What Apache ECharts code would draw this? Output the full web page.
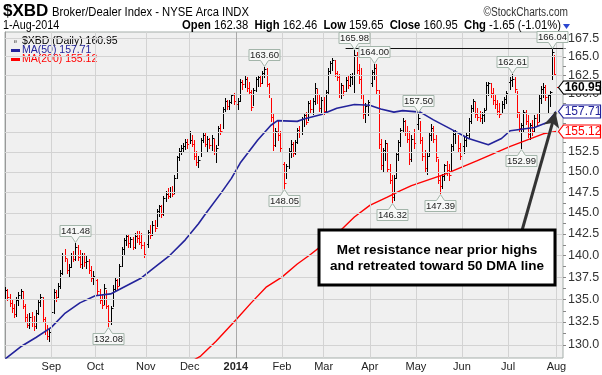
<!DOCTYPE html>
<html>
<head>
<meta charset="utf-8">
<script src="https://cdn.jsdelivr.net/npm/echarts@6/dist/echarts.min.js"></script>
<style>
  html, body { margin: 0; padding: 0; background: #fff; }
  #chart { width: 602px; height: 375px; }
</style>
</head>
<body>
<div id="chart"></div>
<script>
// daily bars, 2-Aug-2013 .. 1-Aug-2014 (index = trading day)
const highs = [
  136.4,136.2,135.6,135.0,134.5,135.2,135.8,136.2,135.9,134.5,133.4,133.5,133.6,133.2,133.8,135.0,135.6,135.2,133.0,132.2,131.8,
  133.8,136.1,136.0,136.8,138.3,140.3,140.7,139.6,139.0,140.3,140.5,141.48,141.2,140.6,140.3,140.3,140.0,139.6,138.8,138.2,
  137.8,137.3,136.1,135.6,136.7,136.0,134.4,134.3,136.6,137.4,137.3,139.0,141.0,142.0,142.5,142.4,142.1,142.1,142.6,142.9,142.8,142.6,141.6,
  141.6,143.0,143.5,144.0,144.2,145.5,146.0,146.0,147.0,147.6,148.0,148.1,148.2,149.6,152.0,153.0,153.4,153.6,154.2,154.1,
  155.1,154.6,154.0,152.6,152.0,154.3,155.0,155.0,154.5,154.3,154.6,154.2,153.4,155.8,156.0,158.3,159.4,159.2,159.2,160.0,160.1,
  160.0,159.4,162.0,161.9,162.4,162.2,161.6,160.5,160.8,162.3,162.4,162.5,163.0,163.6,163.4,161.5,159.5,157.5,155.6,156.4,155.2,
  154.0,151.2,151.0,153.0,154.0,153.8,154.0,155.6,155.8,157.0,157.4,157.6,159.0,159.2,159.4,161.5,160.6,159.8,159.6,
  159.6,160.5,163.4,164.4,164.8,164.5,163.0,162.6,161.5,161.2,162.2,162.4,162.6,162.8,165.98,165.6,164.0,163.5,160.0,158.8,159.2,
  161.8,163.2,164.0,164.0,160.5,154.2,153.0,154.0,153.6,151.0,149.6,149.6,152.5,154.0,155.6,156.8,156.6,155.8,155.2,154.6,155.4,
  156.4,157.5,156.5,154.4,152.7,152.4,155.0,156.0,155.8,154.6,151.6,149.6,149.7,151.0,151.3,151.0,153.5,155.2,155.3,154.6,153.6,
  153.6,154.4,155.0,156.8,158.5,159.3,158.9,158.2,157.8,157.6,158.2,161.6,161.6,161.4,160.8,159.8,159.2,158.8,159.0,159.6,160.4,
  161.8,162.2,162.61,162.2,160.4,157.6,156.2,157.9,157.9,157.2,156.2,156.6,157.2,157.4,159.8,161.0,161.4,161.2,160.0,160.4,166.04,165.2,
  162.46
];
const lows = [
  135.0,134.9,134.2,133.6,133.0,133.2,134.4,135.0,134.0,132.6,131.9,131.8,132.1,131.6,131.8,133.4,134.3,132.5,131.2,130.6,130.4,
  132.2,133.5,134.8,135.2,136.3,137.8,139.3,138.0,137.6,138.6,139.3,139.5,139.5,138.6,138.5,138.8,138.5,138.0,137.0,136.7,
  136.9,135.6,134.6,134.0,134.5,134.0,132.08,132.3,134.3,136.0,136.0,136.6,138.8,140.2,141.2,141.0,141.0,140.7,140.8,141.5,141.3,140.9,139.8,
  140.0,141.0,142.0,142.4,142.8,143.4,144.6,144.5,144.8,146.4,146.8,146.9,147.0,147.4,149.2,151.5,152.2,152.5,152.9,153.0,
  153.6,153.2,151.6,150.8,150.6,152.0,153.8,153.2,152.6,153.0,152.8,152.2,151.2,153.4,154.8,155.6,157.8,158.0,158.0,158.8,158.6,
  158.4,158.0,159.0,160.6,160.9,160.4,160.0,157.9,158.5,160.4,161.0,161.0,161.5,162.3,161.0,159.6,156.5,152.8,153.3,154.0,152.6,
  150.6,148.05,149.2,150.5,151.8,152.0,152.2,153.6,154.4,154.8,155.8,156.0,156.6,157.6,157.4,158.6,158.8,157.8,157.6,
  157.4,157.8,160.1,162.8,163.2,162.4,161.8,159.6,159.5,159.8,160.4,160.8,161.0,161.3,160.2,162.8,161.5,159.5,156.8,156.3,157.2,
  158.9,161.0,162.0,160.0,153.0,150.4,150.0,151.5,150.0,148.6,146.32,146.6,149.2,151.5,153.2,155.0,154.6,153.8,151.0,151.4,153.0,
  153.4,155.4,153.6,151.5,150.0,149.7,152.0,154.0,153.8,151.4,148.6,147.39,148.0,149.0,149.6,149.0,150.0,152.8,153.6,152.6,151.6,
  151.5,152.4,153.2,154.4,156.2,157.8,157.0,156.6,156.4,156.2,156.4,158.0,159.8,159.6,158.6,158.2,157.4,157.0,157.6,158.2,158.8,
  160.0,160.6,161.0,160.2,157.0,155.2,152.99,155.2,156.0,154.4,154.2,154.6,155.2,155.8,156.4,158.8,159.6,159.2,157.6,158.4,162.0,162.5,
  159.65
];
const closes = [
  136.0,135.2,134.6,134.0,133.4,134.9,135.5,135.9,134.3,133.0,132.2,133.0,132.5,132.0,133.5,134.7,135.3,132.8,131.6,131.0,131.4,
  133.6,135.8,135.3,136.5,138.0,140.0,139.7,138.3,138.7,140.0,139.6,141.0,139.8,139.0,140.0,139.2,139.4,138.3,137.4,137.6,
  137.2,135.9,134.9,134.4,136.3,134.3,132.6,134.0,136.2,137.2,136.5,138.8,140.7,141.8,142.2,141.4,141.9,141.0,142.3,142.0,141.6,141.2,140.2,
  141.3,142.7,142.4,143.6,143.2,145.2,145.8,144.9,146.8,147.3,147.0,147.5,147.3,149.3,151.8,152.6,153.0,153.3,153.8,153.5,
  154.0,153.5,152.0,151.2,151.5,154.0,154.6,153.5,154.2,153.4,154.3,152.5,153.0,155.5,155.2,158.0,159.1,158.4,158.9,159.8,159.0,
  158.7,159.1,161.6,161.3,162.0,160.8,160.3,158.3,160.5,162.0,162.2,161.4,162.8,163.3,161.3,160.0,157.0,153.4,155.2,154.6,153.0,
  151.0,148.6,150.7,152.6,153.5,152.4,153.8,155.3,155.0,156.7,157.2,156.3,158.8,158.0,159.0,160.8,160.0,158.2,159.2,
  157.8,160.3,163.0,164.2,164.5,162.8,162.2,160.0,161.2,160.4,161.8,161.2,162.2,162.5,165.2,163.2,162.0,160.0,157.3,158.4,158.9,
  161.5,162.9,163.5,160.5,153.5,150.8,152.7,153.6,150.4,149.0,146.9,149.3,152.2,153.7,155.3,156.5,155.0,154.2,151.6,154.2,153.6,
  156.0,156.8,154.0,152.0,150.5,152.0,154.6,155.6,154.2,151.8,149.0,148.2,149.5,150.8,150.2,149.6,153.2,154.8,155.0,153.0,152.0,
  153.3,154.0,154.6,156.5,158.2,159.0,157.4,157.0,156.8,157.2,157.9,161.2,161.4,160.1,159.2,158.6,157.8,157.4,158.6,159.3,160.1,
  161.6,161.9,162.0,160.6,157.6,155.6,155.9,157.6,156.4,154.8,155.9,155.2,156.8,156.3,159.4,160.6,160.9,159.6,159.8,160.2,165.6,162.6,
  160.95
];

// moving averages at sample days
const ma50Idx = [0,7,14,21,27,34,41,48,55,62,68,75,82,88,91,98,103,107,115,121,124,133,136,144,151,159,166,171,177,181,189,195,203,211,220,226,230,241,247,251];
const ma50Val = [128.5,129.8,130.8,131.9,133.4,134.6,135.4,135.6,136.5,137.4,138.6,140.0,141.8,143.7,144.8,147.3,149.2,151.1,154.0,155.9,156.5,156.4,156.7,157.3,158.1,158.6,158.5,158.0,157.6,157.8,157.6,156.6,155.4,154.2,153.4,154.2,155.2,155.6,156.3,157.71];
const ma200Idx = [86,89,96,105,112,119,126,133,139,145,153,159,166,174,180,185,200,215,230,245,251];
const ma200Val = [128.4,128.8,130.4,132.7,134.6,136.4,137.5,139.0,140.1,141.3,143.0,144.5,145.9,146.9,147.7,148.3,149.7,151.4,153.2,154.8,155.12];

const monthTicks = [21,41,64,84,105,126,145,166,187,208,229,251];
const monthNames = ['Sep','Oct','Nov','Dec','2014','Feb','Mar','Apr','May','Jun','Jul','Aug'];
const priceTicks = [130,132.5,135,137.5,140,142.5,145,147.5,150,152.5,155,157.5,160,162.5,165,167.5];

const peakIdx = [32,118,159,168,188,231,249];
const troughIdx = [47,127,176,198,235];

const lastClose = 160.95, lastMa50 = 157.71, lastMa200 = 155.12;
const quote = { open: '162.38', high: '162.46', low: '159.65', close: '160.95', chg: '-1.65 (-1.01%)' };
const resistanceLevel = 166.1, resistanceFrom = 155;
const arrowFrom = [235.4, 142.96], arrowTo = [250.6, 157.6];

const X_MIN = -0.1, X_MAX = 254;
const FONT = "'Liberation Sans', Arial, sans-serif";
const MA50_COLOR = '#23239b';
const MA200_COLOR = '#ff0000';

const chart = echarts.init(document.getElementById('chart'));

const bars = closes.map((c, i) => [i, highs[i], lows[i], c]);

function renderBar(params, api) {
  const i = api.value(0);
  const top = api.coord([i, api.value(1)]);
  const bot = api.coord([i, api.value(2)]);
  const cl = api.coord([i, api.value(3)]);
  const up = i === 0 || closes[i] >= closes[i - 1];
  const color = up ? '#000' : '#ff0000';
  const x = Math.round(top[0]) + 0.5;
  const cy = Math.round(cl[1]) + 0.5;
  return {
    type: 'group',
    children: [
      { type: 'line', shape: { x1: x, y1: Math.round(top[1]), x2: x, y2: Math.round(bot[1]) + 1 },
        style: { stroke: color, lineWidth: 1 } },
      { type: 'line', shape: { x1: x, y1: cy, x2: x + 2, y2: cy },
        style: { stroke: color, lineWidth: 1 } }
    ]
  };
}

// value boxes above highs / below lows
const extremes = peakIdx.map(i => [i, highs[i], 1]).concat(troughIdx.map(i => [i, lows[i], -1]));
function renderExtreme(params, api) {
  const p = api.coord([api.value(0), api.value(1)]);
  const dir = api.value(2);
  const cx = Math.round(p[0]) + 0.5;
  const w = 31, h = 11, gap = 6;
  const tipY = Math.round(p[1] - dir * 1) + 0.5;
  const baseY = tipY - dir * gap;
  const farY = baseY - dir * h;
  const l = cx - w / 2, r = cx + w / 2;
  return {
    type: 'group',
    children: [
      { type: 'polygon',
        shape: { points: [[l, farY], [r, farY], [r, baseY], [cx + 4, baseY], [cx, tipY], [cx - 4, baseY], [l, baseY]] },
        style: { fill: '#f7f8f7', stroke: '#a3b5aa', lineWidth: 1 } },
      { type: 'text',
        style: { text: api.value(1).toFixed(2), x: cx, y: (baseY + farY) / 2 + 0.5, align: 'center',
                 verticalAlign: 'middle', font: '9.5px ' + FONT, fill: '#222' } }
    ]
  };
}

// last-value tags on the price axis
const tags = [[X_MAX, lastClose, 0], [X_MAX, lastMa50, 1], [X_MAX, lastMa200, 2]];
const tagStroke = ['#000', MA50_COLOR, MA200_COLOR];
function renderTag(params, api) {
  const p = api.coord([api.value(0), api.value(1)]);
  const k = api.value(2);
  const x0 = Math.round(p[0]) - 4.5, y = Math.round(p[1]) + 0.5;
  const h = 6.5, x1 = x0 + 5, x2 = 600.5;
  return {
    type: 'group',
    children: [
      { type: 'polygon', shape: { points: [[x0, y], [x1, y - h], [x2, y - h], [x2, y + h], [x1, y + h]] },
        style: { fill: '#fff', stroke: tagStroke[k], lineWidth: 1.2 } },
      { type: 'text',
        style: { text: api.value(1).toFixed(2), x: (x1 + x2) / 2 + 1, y: y + 0.5, align: 'center', verticalAlign: 'middle',
                 font: (k === 0 ? 'bold ' : '') + '12px ' + FONT, fill: tagStroke[k] } }
    ]
  };
}

// small ticks on the right axis
const axisTicks = priceTicks.concat(priceTicks.slice(1).map(v => v - 1.25));
function renderTick(params, api) {
  const p = api.coord([X_MAX, api.value(0)]);
  const y = Math.round(p[1]) + 0.5;
  return { type: 'line', shape: { x1: p[0], y1: y, x2: p[0] + 3, y2: y }, style: { stroke: '#888', lineWidth: 1 } };
}

const gridLines = priceTicks.map(v => ({
  yAxis: v,
  lineStyle: { color: '#d3d3d3', width: 1, type: 'solid' },
  label: { show: true, position: 'end', formatter: v.toFixed(1), color: '#333', fontSize: 12.5, fontFamily: FONT, distance: 5 }
})).concat(monthTicks.map((v, k) => ({
  xAxis: v,
  lineStyle: { color: monthNames[k] === '2014' ? '#a9a9a9' : '#d3d3d3', width: 1, type: 'solid' },
  label: { show: false }
})));

const mainName = '$XBD (Daily) ' + lastClose.toFixed(2);
const ma50Name = 'MA(50) ' + lastMa50.toFixed(2);
const ma200Name = 'MA(200) ' + lastMa200.toFixed(2);

const option = {
  animation: false,
  backgroundColor: '#fff',
  grid: { left: 5, right: 39, top: 32, bottom: 17, show: true, backgroundColor: '#f0f0f0', borderColor: '#a5aeaa', borderWidth: 1 },
  legend: {
    left: 6, top: 31, orient: 'vertical', itemGap: -2, itemWidth: 9, itemHeight: 3, selectedMode: false,
    textStyle: { fontSize: 10.5, fontFamily: FONT, padding: [0, 0, 0, -3] },
    data: [
      { name: mainName, icon: 'path://M1,0h1.4v10h-1.4z M0,6h1v1.4h-1z M5,0h1.4v10h-1.4z M6.4,3h1.2v1.4h-1.2z',
        itemWidth: 8, itemHeight: 10, textStyle: { color: '#000' } },
      { name: ma50Name, icon: 'rect', textStyle: { color: MA50_COLOR } },
      { name: ma200Name, icon: 'rect', textStyle: { color: MA200_COLOR } }
    ]
  },
  xAxis: {
    type: 'value', min: X_MIN, max: X_MAX,
    axisLine: { show: false }, axisTick: { show: false }, splitLine: { show: false },
    axisLabel: {
      customValues: monthTicks, margin: 3, color: '#222', fontSize: 11, fontFamily: FONT,
      formatter: v => { const n = monthNames[monthTicks.indexOf(v)]; return n === '2014' ? '{b|2014}' : n; },
      rich: { b: { fontWeight: 'bold', fontSize: 11, fontFamily: FONT, color: '#222' } }
    }
  },
  yAxis: {
    type: 'log', logBase: 10, min: 128.6, max: 168.4, position: 'right',
    axisLine: { show: true, lineStyle: { color: '#999' } },
    axisTick: { show: false }, axisLabel: { show: false }, splitLine: { show: false }
  },
  series: [
    { type: 'line', name: 'grid', data: [[0, 150]], symbol: 'none', lineStyle: { opacity: 0 }, silent: true, z: 1,
      markLine: { silent: true, symbol: 'none', animation: false, data: gridLines } },
    { type: 'custom', name: 'ticks', data: axisTicks.map(v => [v]), renderItem: renderTick, silent: true, z: 1 },
    { type: 'custom', name: mainName, data: bars, renderItem: renderBar, itemStyle: { color: '#000' }, z: 2,
      encode: { x: 0, y: [1, 2, 3] } },
    { type: 'line', name: ma50Name, data: ma50Idx.map((i, k) => [i, ma50Val[k]]), symbol: 'none',
      lineStyle: { color: MA50_COLOR, width: 1.6 }, itemStyle: { color: MA50_COLOR }, z: 3,
      markLine: {
        silent: true, symbol: 'none', animation: false, label: { show: false },
        data: [
          [{ coord: [resistanceFrom, resistanceLevel] }, { coord: [X_MAX, resistanceLevel] }],
          [{ coord: arrowFrom, lineStyle: { color: '#333', width: 3, type: 'solid' } },
           { coord: arrowTo, symbol: 'arrow', symbolSize: [12, 15] }]
        ],
        lineStyle: { color: '#111', width: 1, type: 'solid' }
      } },
    { type: 'line', name: ma200Name, data: ma200Idx.map((i, k) => [i, ma200Val[k]]), symbol: 'none',
      lineStyle: { color: MA200_COLOR, width: 1.4 }, itemStyle: { color: MA200_COLOR }, z: 3 },
    { type: 'custom', name: 'extremes', data: extremes, renderItem: renderExtreme, silent: true, z: 5 },
    { type: 'custom', name: 'tags', data: tags, renderItem: renderTag, silent: true, z: 6, clip: false }
  ],
  graphic: [
    { type: 'text', x: 3, y: 3, style: { text: '$XBD', font: 'bold 17px ' + FONT, fill: '#000' } },
    { type: 'text', x: 52, y: 6, scaleX: 0.9, style: { text: 'Broker/Dealer Index - NYSE Arca INDX', font: '12.5px ' + FONT, fill: '#000' } },
    { type: 'text', x: 568, y: 6, scaleX: 0.81, style: { text: '\u00A9StockCharts.com', font: '12.5px ' + FONT, fill: '#333', align: 'right' } },
    { type: 'text', x: 3, y: 19, scaleX: 0.86, style: { text: '1-Aug-2014', font: '12.5px ' + FONT, fill: '#000' } },
    { type: 'text', x: 561, y: 19, scaleX: 0.9, style: {
        text: '{b|Open} ' + quote.open + '  {b|High} ' + quote.high + '  {b|Low} ' + quote.low +
              '  {b|Close} ' + quote.close + '  {b|Chg} ' + quote.chg,
        font: '12.5px ' + FONT, fill: '#000', align: 'right',
        rich: { b: { fontWeight: 'bold', fontSize: 12.5, fontFamily: FONT, fill: '#000' } } } },
    { type: 'polygon', shape: { points: [[563, 24], [570, 24], [566.5, 29]] }, style: { fill: '#2b46d0' } },
    { type: 'rect', z: 100, shape: { x: 319, y: 230, width: 236, height: 55 }, style: { fill: '#fff', stroke: '#000', lineWidth: 3 } },
    { type: 'text', z: 101, x: 437, y: 258, style: {
        text: 'Met resistance near prior highs\nand retreated toward 50 DMA line',
        font: 'bold 13.5px ' + FONT, fill: '#000', align: 'center', verticalAlign: 'middle', lineHeight: 16 } }
  ]
};

chart.setOption(option);
</script>
</body>
</html>
